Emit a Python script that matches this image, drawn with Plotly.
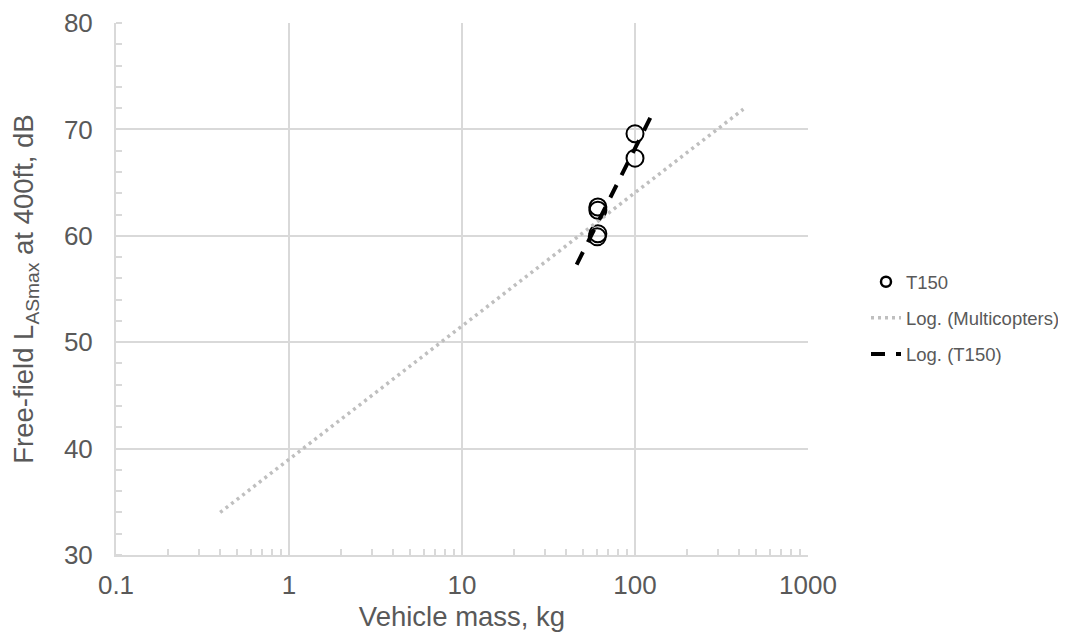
import plotly.graph_objects as go

# T150 measured points
t150_mass = [61, 61, 61, 60.5, 100, 100]
t150_level = [62.7, 62.4, 60.2, 59.9, 69.6, 67.3]

# Logarithmic trendline end points
multi_trend_mass = [0.4, 423]
multi_trend_level = [34.0, 71.9]
t150_trend_mass = [46, 129]
t150_trend_level = [57.3, 71.8]

x_tick_vals = [0.1, 1, 10, 100, 1000]
x_tick_text = ["0.1", "1", "10", "100", "1000"]
y_tick_vals = [30, 40, 50, 60, 70, 80]

TEXT = "#595959"
GRID = "#d9d9d9"
FONT = "Liberation Sans, Arial, sans-serif"

x_minor = [m * 10 ** e for e in (-1, 0, 1, 2) for m in range(2, 10)]

fig = go.Figure()
# data circles (legend entry drawn by a smaller-marker twin below)
fig.add_trace(go.Scatter(
    x=t150_mass, y=t150_level, mode="markers", name="T150",
    showlegend=False, legendgroup="a",
    marker=dict(symbol="circle-open", size=17, color="black",
                line=dict(width=2, color="black")),
))
fig.add_trace(go.Scatter(
    x=[None], y=[None], mode="markers", name="T150",
    legendgroup="a",
    marker=dict(symbol="circle-open", size=10, color="black",
                line=dict(width=2.5, color="black")),
))
fig.add_trace(go.Scatter(
    x=multi_trend_mass, y=multi_trend_level, mode="lines",
    name="Log. (Multicopters)", legendgroup="b",
    line=dict(color="#bfbfbf", width=3.5, dash="3px,4px"),
))
fig.add_trace(go.Scatter(
    x=t150_trend_mass, y=t150_trend_level, mode="lines",
    name="Log. (T150)", legendgroup="c",
    line=dict(color="black", width=4, dash="14px,11px"),
))

# the page body adds an 8px offset, so the figure is 8px smaller each way
fig.update_layout(
    width=1058, height=634,
    margin=dict(l=108, r=258, t=15, b=87, autoexpand=False),
    paper_bgcolor="white", plot_bgcolor="white",
    font=dict(family=FONT, color=TEXT, size=26),
    showlegend=True,
    legend=dict(x=1.0838, y=0.445, xanchor="left", yanchor="middle",
                font=dict(size=18.5, color=TEXT, family=FONT),
                bgcolor="rgba(0,0,0,0)", tracegroupgap=9,
                itemwidth=30),
    xaxis=dict(
        type="log", range=[-1, 3], automargin=False,
        tickvals=x_tick_vals, ticktext=x_tick_text,
        showgrid=True, gridcolor=GRID, gridwidth=2,
        showline=True, linecolor=GRID, linewidth=2,
        ticks="", ticklabelstandoff=6,
        tickfont=dict(size=26, color=TEXT),
        minor=dict(tickvals=x_minor, ticks="inside", ticklen=6,
                   tickcolor=GRID, tickwidth=2, showgrid=False),
        title=dict(text="Vehicle mass, kg", font=dict(size=27.5, color=TEXT),
                   standoff=8),
        zeroline=False, mirror=False,
    ),
    yaxis=dict(
        range=[30, 80], tickvals=y_tick_vals, automargin=False,
        showgrid=True, gridcolor=GRID, gridwidth=2,
        showline=True, linecolor=GRID, linewidth=2,
        ticks="", ticklabelstandoff=16,
        tickfont=dict(size=26, color=TEXT),
        minor=dict(dtick=2, ticks="inside", ticklen=6,
                   tickcolor=GRID, tickwidth=2, showgrid=False),
        title=dict(text="Free-field L<sub>ASmax</sub> at 400ft, dB",
                   font=dict(size=27.5, color=TEXT), standoff=25),
        zeroline=False,
    ),
)

fig.write_html("out.html")
